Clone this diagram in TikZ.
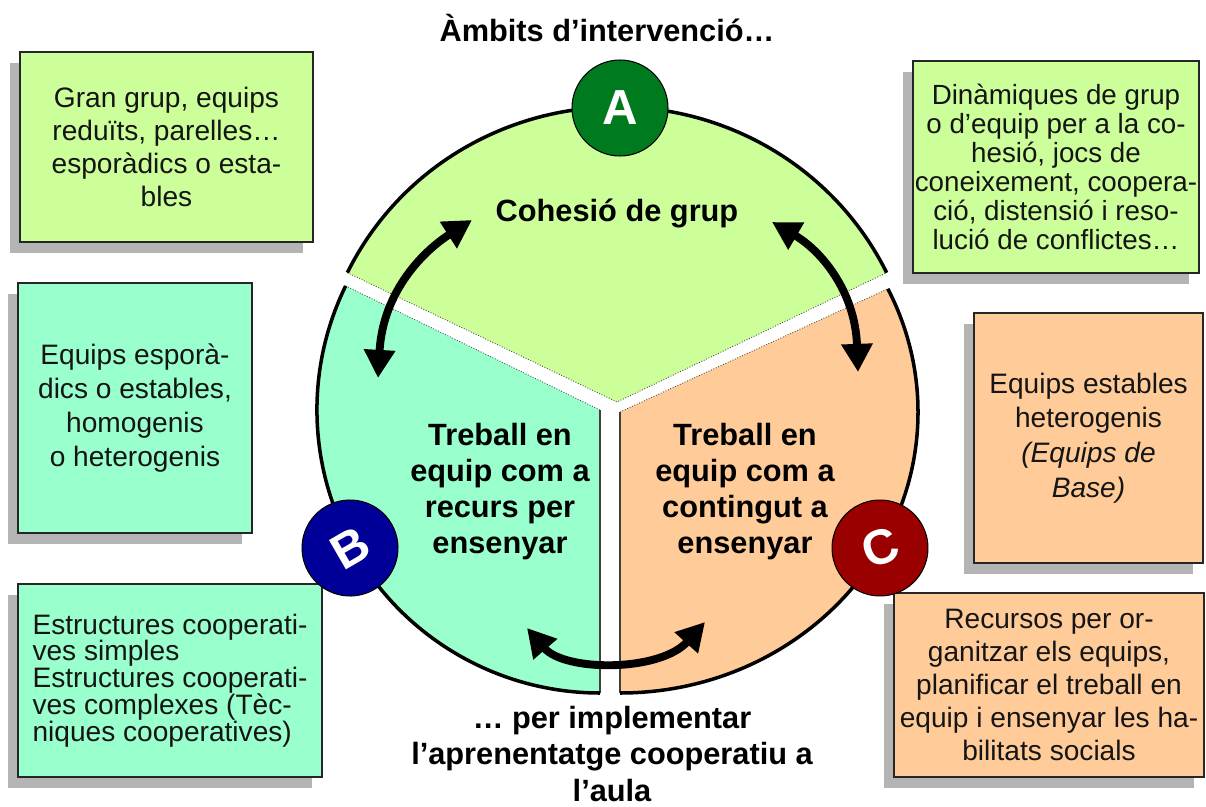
\documentclass[tikz,border=0pt]{standalone}
\usepackage{fontspec}
\setmainfont{Liberation Sans}
\usetikzlibrary{arrows.meta,shadows}
\definecolor{lgreen}{HTML}{CCFF99}
\definecolor{laqua}{HTML}{99FFCC}
\definecolor{lpeach}{HTML}{FFCC99}
\definecolor{dgreen}{HTML}{007A1F}
\definecolor{dblue}{HTML}{000099}
\definecolor{dred}{HTML}{9A0000}
\definecolor{shade}{HTML}{B4B4B4}
\definecolor{txt}{HTML}{151515}
\begin{document}
\begin{tikzpicture}[x=0.02cm, y=-0.02cm,
  infobox/.style={draw=black!85, line width=0.8pt, inner sep=0pt, align=center, text=txt,
     drop shadow={shadow xshift=-5.7pt, shadow yshift=-6.2pt, fill=shade, opacity=1}},
  rim/.style={line width=2pt, black},
  dotedge/.style={line width=0.5pt, black!70, densely dotted},
  solidedge/.style={line width=0.6pt, black!75},
  bigarrow/.style={line width=4.5pt, black, arrows={Triangle[length=16pt,width=17pt]-Triangle[length=16pt,width=17pt]}},
  badge/.style={circle, draw=black, line width=0.6pt, minimum size=1.92cm, inner sep=0pt, text=white, font=\fontsize{28}{28}\bfseries\selectfont},
  secttext/.style={font=\fontsize{17.5}{20.5}\bfseries\selectfont, align=center, text=black}
]
\useasboundingbox (0,0) rectangle (1206,807);
\fill[white] (0,0) rectangle (1206,807);

% info boxes
\node[infobox, fill=lgreen, minimum width=5.86cm, minimum height=3.8cm, font=\fontsize{16}{18.7}\selectfont] (boxA1) at (166.5,147) {Gran grup, equips\\reduïts, parelles…\\esporàdics o esta-\\bles};
\node[infobox, fill=lgreen, minimum width=5.72cm, minimum height=4.24cm, font=\fontsize{15.8}{16.5}\selectfont] (boxA2) at (1056,167) {Dinàmiques de grup\\o d’equip per a la co-\\hesió, jocs de\\coneixement, coopera-\\ció, distensió i reso-\\lució de conflictes…};
\node[infobox, fill=laqua, minimum width=4.68cm, minimum height=5cm, font=\fontsize{16}{19.3}\selectfont] (boxB1) at (135,408) {Equips esporà-\\dics o estables,\\homogenis\\o heterogenis};
\node[infobox, fill=lpeach, minimum width=4.58cm, minimum height=5cm, font=\fontsize{16}{19.8}\selectfont] (boxC1) at (1088.5,438) {Equips estables\\heterogenis\\\textit{(Equips de}\\\textit{Base)}};
\node[infobox, fill=laqua, minimum width=6.08cm, minimum height=3.86cm, align=left, font=\fontsize{16}{15.3}\selectfont] (boxB2) at (170,680.5) {Estructures cooperati-\\ves simples\\Estructures cooperati-\\ves complexes (Tèc-\\niques cooperatives)};
\node[infobox, fill=lpeach, minimum width=6.2cm, minimum height=3.68cm, font=\fontsize{16}{18.7}\selectfont] (boxC2) at (1049,685) {Recursos per or-\\ganitzar els equips,\\planificar el treball en\\equip i ensenyar les ha-\\bilitats socials};

% sectors
\coordinate (gA) at (617,402);
\coordinate (bA) at (600,410);
\coordinate (cA) at (620,412);
\path (gA) ++(-154:300 and 295) coordinate (g1);
\path (gA) ++(-26:300 and 295) coordinate (g2);
\path (bA) ++(206:283) coordinate (b1);
\path (bA) ++(90:283) coordinate (b2);
\path (cA) ++(90:298 and 281) coordinate (c1);
\path (cA) ++(-26:298 and 281) coordinate (c2);

\fill[lgreen] (gA) -- (g1) arc[start angle=-154, end angle=-26, x radius=300, y radius=295] -- cycle;
\fill[laqua] (bA) -- (b1) arc[start angle=206, end angle=90, radius=283] -- cycle;
\fill[lpeach] (cA) -- (c1) arc[start angle=90, end angle=-26, x radius=298, y radius=281] -- cycle;

\draw[dotedge] (g1) -- (gA) -- (g2);
\draw[dotedge] (b1) -- (bA);
\draw[solidedge] (bA) -- (b2);
\draw[solidedge] (c1) -- (cA);
\draw[dotedge] (cA) -- (c2);

\draw[rim] (g1) arc[start angle=-154, end angle=-26, x radius=300, y radius=295];
\draw[rim] (b1) arc[start angle=206, end angle=90, radius=283];
\draw[rim] (c1) arc[start angle=90, end angle=-26, x radius=298, y radius=281];

% texts
\node[secttext] (title) at (607,28) {Àmbits d’intervenció…};
\node[secttext] (cohesio) at (617,213) {Cohesió de grup};
\node[secttext] (treballB) at (500,492) {Treball en\\equip com a\\recurs per\\ensenyar};
\node[secttext] (treballC) at (745,492) {Treball en\\equip com a\\contingut a\\ensenyar};
\node[secttext] (bottomtext) at (612,754) {… per implementar\\l’aprenentatge cooperatiu a\\l’aula};

% arrows
\coordinate (l1) at (378,378); \coordinate (l2) at (472,220);
\coordinate (r1) at (858,372); \coordinate (r2) at (772,222);
\coordinate (m1) at (527,628); \coordinate (m2) at (705,622);
\draw[bigarrow] (l1) .. controls (383,290) and (425,250) .. (l2);
\draw[bigarrow] (r1) .. controls (855,290) and (820,250) .. (r2);
\draw[bigarrow] (m1) .. controls (565,672) and (660,672) .. (m2);

% badges
\node[badge, fill=dgreen] (badgeA) at (620,108) {A};
\node[badge, fill=dblue, rotate=30] (badgeB) at (350,548) {B};
\node[badge, fill=dred, rotate=20] (badgeC) at (880,548) {C};
\end{tikzpicture}
\end{document}
